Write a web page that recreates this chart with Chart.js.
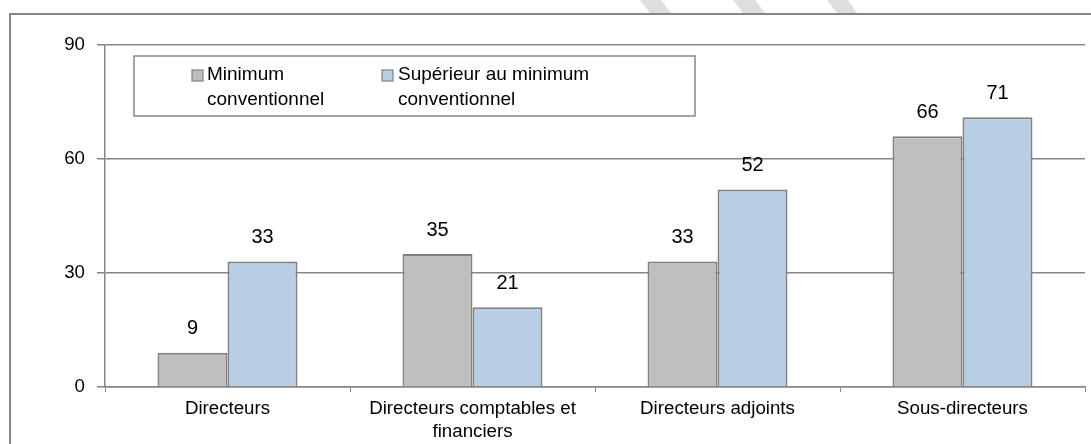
<!DOCTYPE html>
<html>
<head>
<meta charset="utf-8">
<script src="https://cdn.jsdelivr.net/npm/chart.js@4/dist/chart.umd.min.js"></script>
<style>
html,body{margin:0;padding:0;background:#fff;}
#wrap{width:1091px;height:444px;position:relative;}
</style>
</head>
<body>
<div id="wrap"><canvas id="c" width="1091" height="444"></canvas></div>
<script>
const categories = [
  "Directeurs",
  ["Directeurs comptables et", "financiers"],
  "Directeurs adjoints",
  "Sous-directeurs"
];
const seriesNames = [["Minimum", "conventionnel"], ["Supérieur au minimum", "conventionnel"]];
const minimumConventionnel = [9, 35, 33, 66];
const superieurMinimum = [33, 21, 52, 71];
const yTicks = [0, 30, 60, 90];

const FONT = "'Liberation Sans', Arial, sans-serif";
const GRID = "#868686";

const framePlugin = {
  id: 'frame',
  beforeDraw(chart) {
    const ctx = chart.ctx;
    ctx.save();
    ctx.fillStyle = '#fff';
    ctx.fillRect(0, 0, chart.width, chart.height);
    ctx.fillStyle = '#dedede';
    const stripes = [[640, 661, 671, 650], [733, 755, 765, 743], [827, 848, 857, 837]];
    stripes.forEach(s => {
      ctx.beginPath();
      ctx.moveTo(s[0], 0); ctx.lineTo(s[1], 0); ctx.lineTo(s[2], 13); ctx.lineTo(s[3], 13);
      ctx.closePath(); ctx.fill();
    });
    ctx.strokeStyle = GRID;
    ctx.lineWidth = 2;
    ctx.beginPath();
    ctx.moveTo(10, 444);
    ctx.lineTo(10, 14);
    ctx.lineTo(1091, 14);
    ctx.stroke();
    ctx.restore();
  }
};

const labelPlugin = {
  id: 'valueLabels',
  afterDatasetsDraw(chart) {
    const ctx = chart.ctx;
    ctx.save();
    ctx.font = "20px " + FONT;
    ctx.fillStyle = '#000';
    ctx.textAlign = 'center';
    ctx.textBaseline = 'middle';
    chart.data.datasets.forEach((ds, i) => {
      chart.getDatasetMeta(i).data.forEach((bar, j) => {
        ctx.fillText(String(ds.data[j]), bar.x, bar.y - 24);
      });
    });
    ctx.restore();
  }
};

const legendPlugin = {
  id: 'boxLegend',
  afterDraw(chart) {
    const ctx = chart.ctx;
    ctx.save();
    ctx.strokeStyle = GRID;
    ctx.lineWidth = 1.5;
    ctx.fillStyle = '#fff';
    ctx.fillRect(134, 56, 561, 60);
    ctx.strokeRect(134, 56, 561, 60);
    ctx.font = "19px " + FONT;
    ctx.textBaseline = 'middle';
    ctx.textAlign = 'left';
    const xs = [[192, 207], [382, 398]];
    chart.data.datasets.forEach((ds, i) => {
      ctx.fillStyle = ds.backgroundColor;
      ctx.fillRect(xs[i][0], 70, 11, 11);
      ctx.strokeStyle = ds.borderColor;
      ctx.lineWidth = 1.2;
      ctx.strokeRect(xs[i][0], 70, 11, 11);
      ctx.fillStyle = '#000';
      ds.label.forEach((ln, k) => ctx.fillText(ln, xs[i][1], 75 + k * 25));
    });
    ctx.restore();
  }
};

new Chart(document.getElementById('c'), {
  type: 'bar',
  data: {
    labels: categories,
    datasets: [
      { label: seriesNames[0], data: minimumConventionnel, backgroundColor: '#bfbfbf', borderColor: '#808080', borderWidth: 2, categoryPercentage: 0.5714, barPercentage: 1 },
      { label: seriesNames[1], data: superieurMinimum, backgroundColor: '#b9cde5', borderColor: '#808080', borderWidth: 2, categoryPercentage: 0.5714, barPercentage: 1 }
    ]
  },
  options: {
    responsive: false,
    animation: false,
    devicePixelRatio: 1,
    layout: { padding: { left: 0, top: 45, right: 6, bottom: 0 } },
    plugins: { legend: { display: false }, tooltip: { enabled: false } },
    scales: {
      x: {
        afterFit(s) { s.height = 57; },
        grid: { display: true, drawOnChartArea: false, drawTicks: true, tickLength: 5, color: GRID, offset: true },
        border: { display: true, color: GRID, width: 1.5 },
        ticks: { color: '#000', font: { family: FONT, size: 18.7 }, padding: 6, maxRotation: 0, autoSkip: false }
      },
      y: {
        min: 0, max: 90,
        afterFit(s) { s.width = 105; },
        afterBuildTicks(s) { s.ticks = yTicks.map(v => ({ value: v })); },
        grid: { color: GRID, lineWidth: 1.5, tickLength: 8, drawTicks: true },
        border: { display: true, color: GRID, width: 1.5 },
        ticks: { color: '#000', font: { family: FONT, size: 18.7 }, padding: 12 }
      }
    }
  },
  plugins: [framePlugin, labelPlugin, legendPlugin]
});
</script>
</body>
</html>
